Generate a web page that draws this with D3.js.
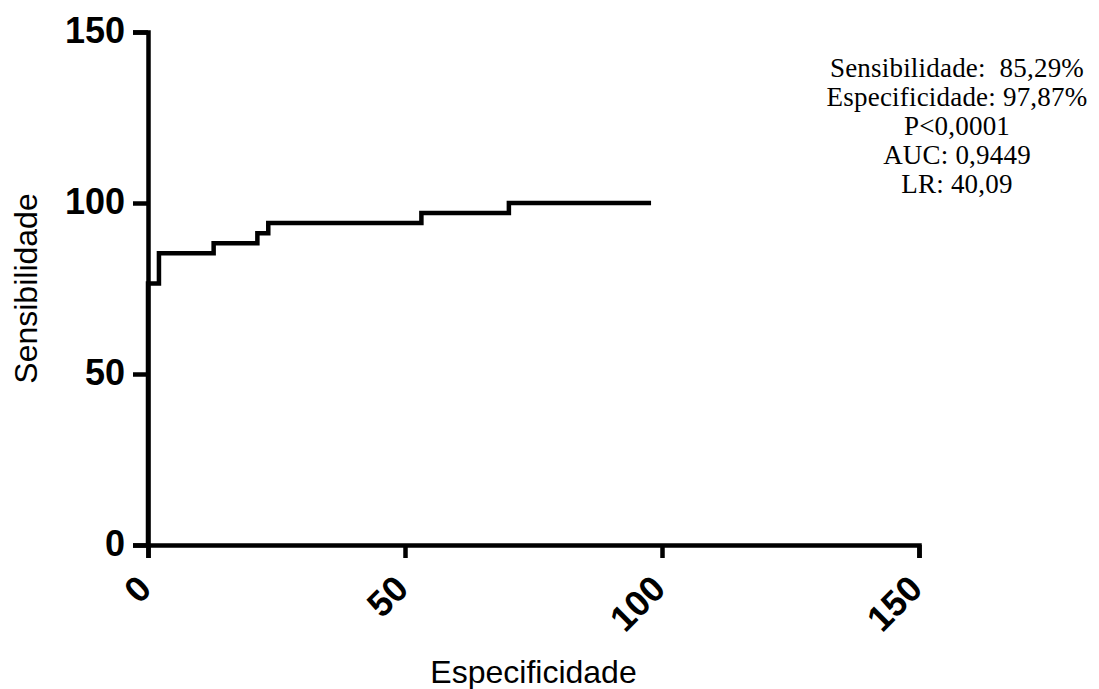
<!DOCTYPE html>
<html>
<head>
	<script src="https://cdn.jsdelivr.net/npm/d3@7"></script>
	<style>
		html, body {
			padding: 0;
			margin: 0;
			background: #ffffff;
		}
	</style>
</head>
<body>
	<script>
		var width = 1099, height = 689;

		// ROC curve: 100% - specificity (x) vs sensitivity (y)
		var fpr = [0, 0, 2.13, 12.77, 21.28, 23.40, 53.19, 70.21, 97.87];
		var sens = [0, 76.47, 85.29, 88.24, 91.18, 94.12, 97.06, 100, 100];

		var xTicks = [0, 50, 100, 150];
		var yTicks = [0, 50, 100, 150];

		var notes = [
			"Sensibilidade:  85,29%",
			"Especificidade: 97,87%",
			"P<0,0001",
			"AUC: 0,9449",
			"LR: 40,09"
		];

		var svg = d3.select('body').append('svg')
			.attr('width', width)
			.attr('height', height)
			.style('background-color', '#ffffff');

		var x = d3.scaleLinear().domain([0, 150]).range([148, 919]);
		var y = d3.scaleLinear().domain([0, 150]).range([545, 32]);

		// axes
		var xAxis = svg.append('g')
			.attr('transform', 'translate(0,' + y(0) + ')')
			.call(d3.axisBottom(x).tickValues(xTicks).tickSize(13).tickFormat(d3.format('d')));

		xAxis.selectAll('text')
			.attr('x', 0)
			.attr('y', 0)
			.attr('dy', '0.35em')
			.attr('transform', 'translate(-4,37) rotate(-45)')
			.style('text-anchor', 'end');

		var yAxis = svg.append('g')
			.attr('transform', 'translate(' + x(0) + ',0)')
			.call(d3.axisLeft(y).tickValues(yTicks).tickSize(15).tickPadding(8).tickFormat(d3.format('d')));

		yAxis.selectAll('text').attr('dy', '0.3em');

		svg.selectAll('.domain, .tick line')
			.attr('stroke', '#000')
			.attr('stroke-width', 4.5);

		svg.selectAll('.tick text')
			.attr('fill', '#000')
			.style('font-family', 'Arial, "Liberation Sans", sans-serif')
			.style('font-weight', 'bold')
			.style('font-size', '36px');

		// step line
		var line = d3.line()
			.x(function(d, i) { return x(fpr[i]); })
			.y(function(d, i) { return y(sens[i]); })
			.curve(d3.curveStepAfter);

		svg.append('path')
			.datum(fpr)
			.attr('d', line)
			.attr('fill', 'none')
			.attr('stroke', '#000')
			.attr('stroke-width', 4.5);

		// axis titles
		svg.append('text')
			.attr('x', (x(0) + x(150)) / 2)
			.attr('y', 683)
			.attr('text-anchor', 'middle')
			.style('font-family', 'Arial, "Liberation Sans", sans-serif')
			.style('font-size', '32px')
			.text('Especificidade');

		svg.append('text')
			.attr('transform', 'translate(37,' + (y(0) + y(150)) / 2 + ') rotate(-90)')
			.attr('text-anchor', 'middle')
			.style('font-family', 'Arial, "Liberation Sans", sans-serif')
			.style('font-size', '32px')
			.text('Sensibilidade');

		// stats box
		svg.append('g').selectAll('text')
			.data(notes)
			.enter().append('text')
			.attr('x', 957)
			.attr('y', function(d, i) { return 77 + i * 29; })
			.attr('text-anchor', 'middle')
			.style('font-family', '"Times New Roman", "Liberation Serif", serif')
			.style('font-size', '27px')
			.style('letter-spacing', '0.2px')
			.style('white-space', 'pre')
			.text(function(d) { return d; });
	</script>
</body>
</html>
